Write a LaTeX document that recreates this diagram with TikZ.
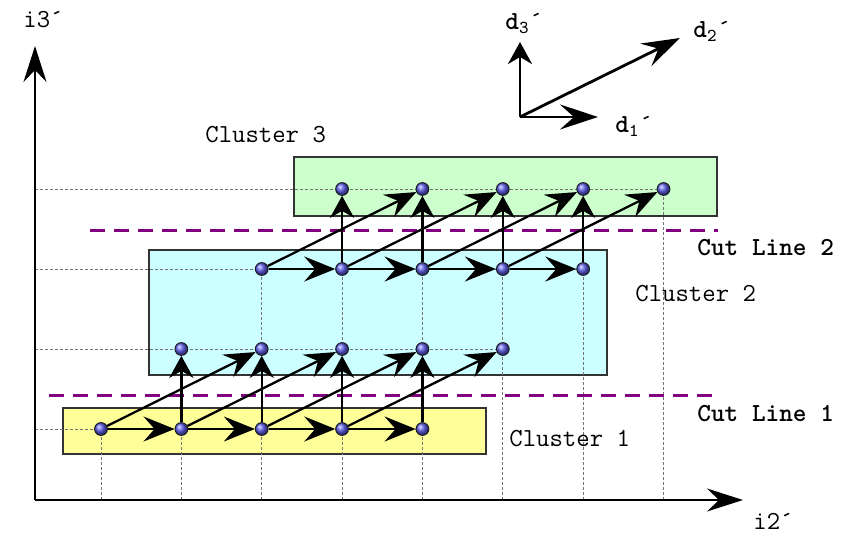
\documentclass[tikz,border=0pt]{standalone}
\usepackage{fontspec}
\usetikzlibrary{arrows.meta}
\definecolor{clusterA}{RGB}{255,255,153}
\definecolor{clusterB}{RGB}{204,255,255}
\definecolor{clusterC}{RGB}{204,255,204}
\definecolor{cutcol}{RGB}{128,0,128}
\definecolor{ptcol}{RGB}{95,95,235}
\pgfdeclarelayer{background}
\pgfsetlayers{background,main}
\begin{document}
\begin{tikzpicture}[x=0.5pt,y=-0.5pt,
  font=\fontsize{13}{15}\selectfont\ttfamily,
  pt/.style={circle, draw=black!90, line width=0.45pt, shading=ball,
    ball color=ptcol, minimum size=6.4pt, inner sep=0pt},
  cluster/.style={draw=black!80, line width=0.6pt},
  gridline/.style={black!55, line width=0.4pt, dash pattern=on 1.5pt off 1pt},
  cutline/.style={cutcol, line width=1.5pt, dash pattern=on 7.5pt off 4.5pt},
  flow/.style={line width=1.15pt, -{Stealth[length=15.5pt,width=12.5pt,inset=5.5pt]}},
  flowup/.style={line width=1.15pt, -{Stealth[length=11pt,width=12pt,inset=3.5pt]}},
  axis/.style={line width=1.1pt, -{Stealth[length=18pt,width=11.5pt,inset=6pt]}},
  dirvec/.style={line width=1.4pt, -{Stealth[length=19pt,width=12.5pt,inset=7pt]}},
  lbl/.style={anchor=base west, inner sep=0pt},
  boldlbl/.style={lbl, font=\fontsize{13}{15}\selectfont\ttfamily\bfseries}]
\useasboundingbox (0,0) rectangle (854,533);

% axes
\coordinate (O) at (35,500);
\coordinate (ytop) at (35,46);
\coordinate (xend) at (743,500);

% iteration points: row r holds columns r..r+4
\foreach \r in {0,...,3}{
  \pgfmathtruncatemacro\last{\r+4}
  \foreach \c in {\r,...,\last}{
    \node[pt] (n\r\c) at ({101+80.36*\c},{429-80*\r}) {};
  }
}

\begin{pgfonlayer}{background}
  % clusters
  \draw[cluster, fill=clusterA] (63,408) rectangle (486,454);
  \draw[cluster, fill=clusterB] (149,250) rectangle (607,375);
  \draw[cluster, fill=clusterC] (294,157) rectangle (717,216);
  % projection lines to the axes
  \foreach \r in {0,...,3}{
    \pgfmathtruncatemacro\last{\r+4}
    \draw[gridline] (O |- n\r\r.center) -- (n\r\last.center);
  }
  \foreach \c in {0,...,7}{
    \pgfmathtruncatemacro\top{min(\c,3)}
    \draw[gridline] (n\top\c.center |- O) -- (n\top\c.center);
  }
  % cut lines
  \draw[cutline] (90,231) -- (718,231);
  \draw[cutline] (49,395) -- (718,395);
\end{pgfonlayer}

\draw[axis] (O) -- (ytop);
\draw[axis] (O) -- (xend);

% dependences
\foreach \c in {0,...,3}{
  \pgfmathtruncatemacro\d{\c+1}
  \pgfmathtruncatemacro\e{\c+2}
  \draw[flow] (n0\c) -- (n0\d);
  \draw[flowup] (n0\d) -- (n1\d);
  \draw[flow] (n0\c) -- (n1\e);
}
\foreach \c in {2,...,5}{
  \pgfmathtruncatemacro\d{\c+1}
  \pgfmathtruncatemacro\e{\c+2}
  \draw[flow] (n2\c) -- (n2\d);
  \draw[flowup] (n2\d) -- (n3\d);
  \draw[flow] (n2\c) -- (n3\e);
}

% direction vectors
\coordinate (dO) at (520,117);
\coordinate (d1end) at (598,117);
\coordinate (d2end) at (680,38);
\coordinate (d3end) at (520,42);
\draw[dirvec] (dO) -- (d1end);
\draw[dirvec] (dO) -- (d2end);
\draw[flowup, line width=1.4pt] (dO) -- (d3end);

% labels
\node[lbl] (i3lab) at (23,28) {i3´};
\node[lbl] (i2lab) at (753,529) {i2´};
\node[lbl] (d3lab) at (505,30) {\textbf{d}\textsubscript{3}´};
\node[lbl] (d2lab) at (693,38) {\textbf{d}\textsubscript{2}´};
\node[lbl] (d1lab) at (615,133) {\textbf{d}\textsubscript{1}´};
\node[lbl] (c3lab) at (205,143) {Cluster 3};
\node[lbl] (c2lab) at (635,302) {Cluster 2};
\node[lbl] (c1lab) at (509,446) {Cluster 1};
\node[boldlbl] (cut2lab) at (697,256) {Cut Line 2};
\node[boldlbl] (cut1lab) at (697,421) {Cut Line 1};
\end{tikzpicture}
\end{document}
